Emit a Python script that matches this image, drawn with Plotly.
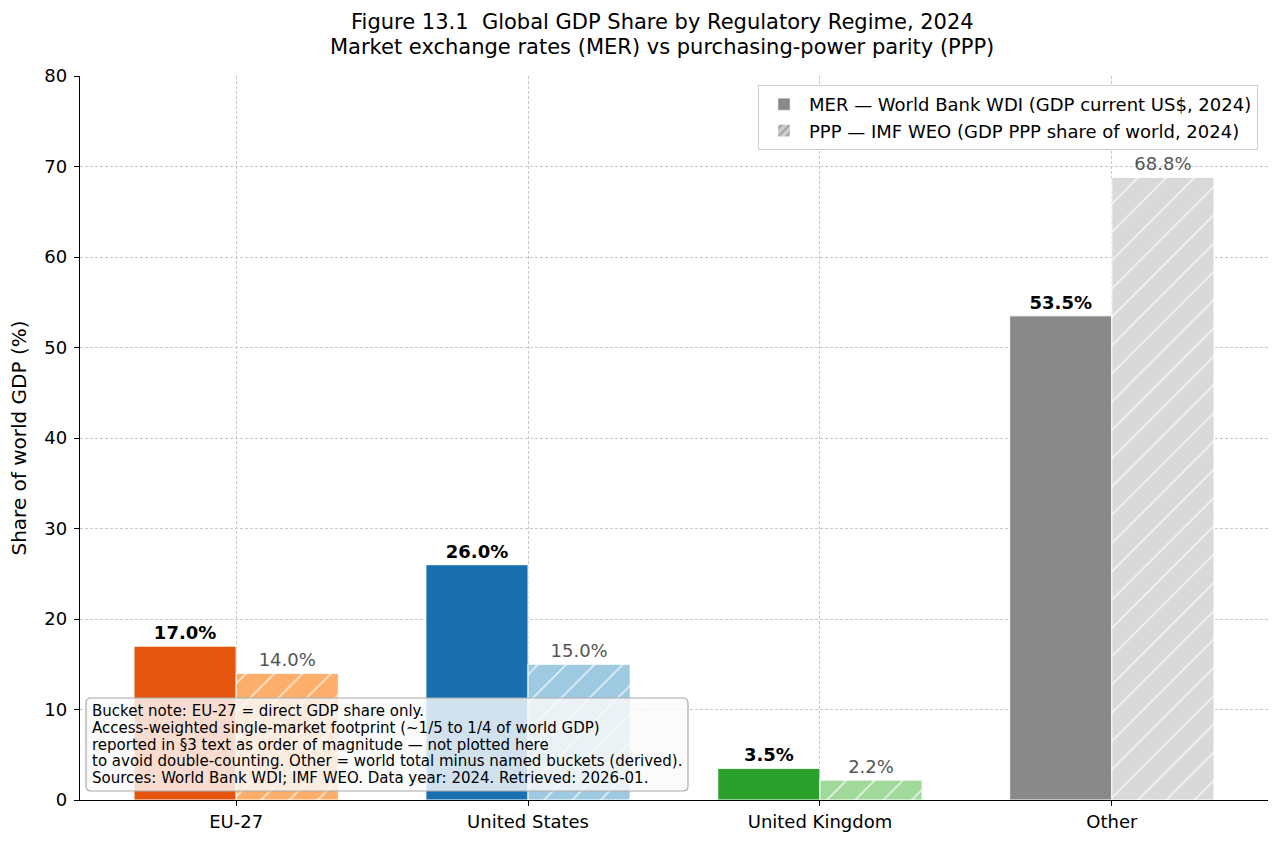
import plotly.graph_objects as go

categories = ["EU-27", "United States", "United Kingdom", "Other"]
mer_values = [17.0, 26.0, 3.5, 53.5]
ppp_values = [14.0, 15.0, 2.2, 68.8]
mer_colors = ["#e6550d", "#1a6faf", "#2ca02c", "#898989"]
ppp_colors = ["#fdae6b", "#9ecae1", "#a1d99b", "#d9d9d9"]
y_ticks = [0, 10, 20, 30, 40, 50, 60, 70, 80]
mer_name = "MER \u2014 World Bank WDI (GDP current US$, 2024)"
ppp_name = "PPP \u2014 IMF WEO (GDP PPP share of world, 2024)"
title_lines = [
    "Figure 13.1\u00a0\u00a0Global GDP Share by Regulatory Regime, 2024",
    "Market exchange rates (MER) vs purchasing-power parity (PPP)",
]
note_lines = [
    "Bucket note: EU-27 = direct GDP share only.",
    "Access-weighted single-market footprint (~1/5 to 1/4 of world GDP)",
    "reported in \u00a73 text as order of magnitude \u2014 not plotted here",
    "to avoid double-counting. Other = world total minus named buckets (derived).",
    "Sources: World Bank WDI; IMF WEO. Data year: 2024. Retrieved: 2026-01.",
]

xpos = list(range(len(categories)))
FONT = "DejaVu Sans"
W, H = 1282, 847
ML, MR, MT, MB = 80, 14, 76, 47
PW = W - ML - MR
PH = H - MT - MB


def px_x(px):
    return (px - ML) / PW


def px_y(py):
    return (H - MB - py) / PH


fig = go.Figure()
fig.add_trace(go.Bar(
    x=xpos, y=mer_values, width=0.35, offset=-0.35,
    marker=dict(color=mer_colors, line=dict(color="white", width=1)),
    texttemplate="%{y:.1f}%", textposition="outside", cliponaxis=False,
    constraintext="none",
    textfont=dict(family=FONT, size=18, color="black", weight="bold"),
    showlegend=False, hoverinfo="skip",
))
# PPP solid fill
fig.add_trace(go.Bar(
    x=xpos, y=ppp_values, width=0.35, offset=0,
    marker=dict(color=ppp_colors, line=dict(color="white", width=1)),
    texttemplate="%{y:.1f}%", textposition="outside", cliponaxis=False,
    constraintext="none",
    textfont=dict(family=FONT, size=18, color="#555555"),
    showlegend=False, hoverinfo="skip",
))
# PPP white hatch overlay
fig.add_trace(go.Bar(
    x=xpos, y=ppp_values, width=0.35, offset=0,
    marker=dict(color="rgba(255,255,255,0.7)", line=dict(width=0),
                pattern=dict(shape="/", fgcolor="rgba(255,255,255,0.7)",
                             bgcolor="rgba(0,0,0,0)", size=20, solidity=0.08,
                             fillmode="replace")),
    showlegend=False, hoverinfo="skip",
))
# legend entries
fig.add_trace(go.Bar(x=[None], y=[None], name=mer_name,
                     marker=dict(color="#898989")))
fig.add_trace(go.Bar(x=[None], y=[None], name=ppp_name,
                     marker=dict(color="#cccccc",
                                 pattern=dict(shape="/", fgcolor="#555555",
                                              size=7, solidity=0.25,
                                              fillmode="overlay"))))

annotations = []
for i, line in enumerate(title_lines):
    annotations.append(dict(
        text=line, showarrow=False, xref="paper", yref="paper",
        x=px_x(662), xanchor="center", y=px_y(22 + 25 * i), yanchor="middle",
        font=dict(family=FONT, size=21, color="black"),
    ))
for i, line in enumerate(note_lines):
    annotations.append(dict(
        text=line, showarrow=False, xref="paper", yref="paper", align="left",
        x=px_x(90), xanchor="left", y=px_y(711 + 16.8 * i), yanchor="middle",
        font=dict(family=FONT, size=15, color="black"),
    ))

# rounded note box
x0, x1 = px_x(86), px_x(688)
y0, y1 = px_y(791), px_y(698)
rx, ry = 5 / PW, 5 / PH
box_path = (
    f"M {x0 + rx},{y0} L {x1 - rx},{y0} Q {x1},{y0} {x1},{y0 + ry} "
    f"L {x1},{y1 - ry} Q {x1},{y1} {x1 - rx},{y1} "
    f"L {x0 + rx},{y1} Q {x0},{y1} {x0},{y1 - ry} "
    f"L {x0},{y0 + ry} Q {x0},{y0} {x0 + rx},{y0} Z"
)

fig.update_layout(
    width=W, height=H,
    margin=dict(l=ML, r=MR, t=MT, b=MB),
    barmode="overlay",
    plot_bgcolor="white", paper_bgcolor="white",
    font=dict(family=FONT, size=18, color="black"),
    xaxis=dict(
        range=[-0.535, 3.535], tickvals=xpos, ticktext=categories,
        showgrid=True, gridcolor="#c8c8c8", griddash="3px,2px", gridwidth=0.8,
        showline=True, linecolor="black", linewidth=1.3,
        ticks="outside", ticklen=5, tickcolor="black", zeroline=False,
        tickfont=dict(family=FONT, size=18),
    ),
    yaxis=dict(
        range=[0, 80], tickvals=y_ticks,
        showgrid=True, gridcolor="#c8c8c8", griddash="3px,2px", gridwidth=0.8,
        showline=True, linecolor="black", linewidth=1.3,
        ticks="outside", ticklen=5, tickcolor="black", zeroline=False,
        tickfont=dict(family=FONT, size=18), ticklabelstandoff=3,
        title=dict(text="Share of world GDP (%)", font=dict(family=FONT, size=20),
                   standoff=12),
    ),
    legend=dict(
        x=px_x(1258), xanchor="right", y=px_y(85), yanchor="top",
        bgcolor="white", bordercolor="#cccccc", borderwidth=1,
        font=dict(family=FONT, size=18), itemwidth=40,
    ),
    shapes=[dict(
        type="path", path=box_path, xref="paper", yref="paper",
        fillcolor="rgba(250,250,250,0.82)", line=dict(color="#aaaaaa", width=1.2),
        layer="above",
    )],
    annotations=annotations,
)

fig.write_html("out.html")
